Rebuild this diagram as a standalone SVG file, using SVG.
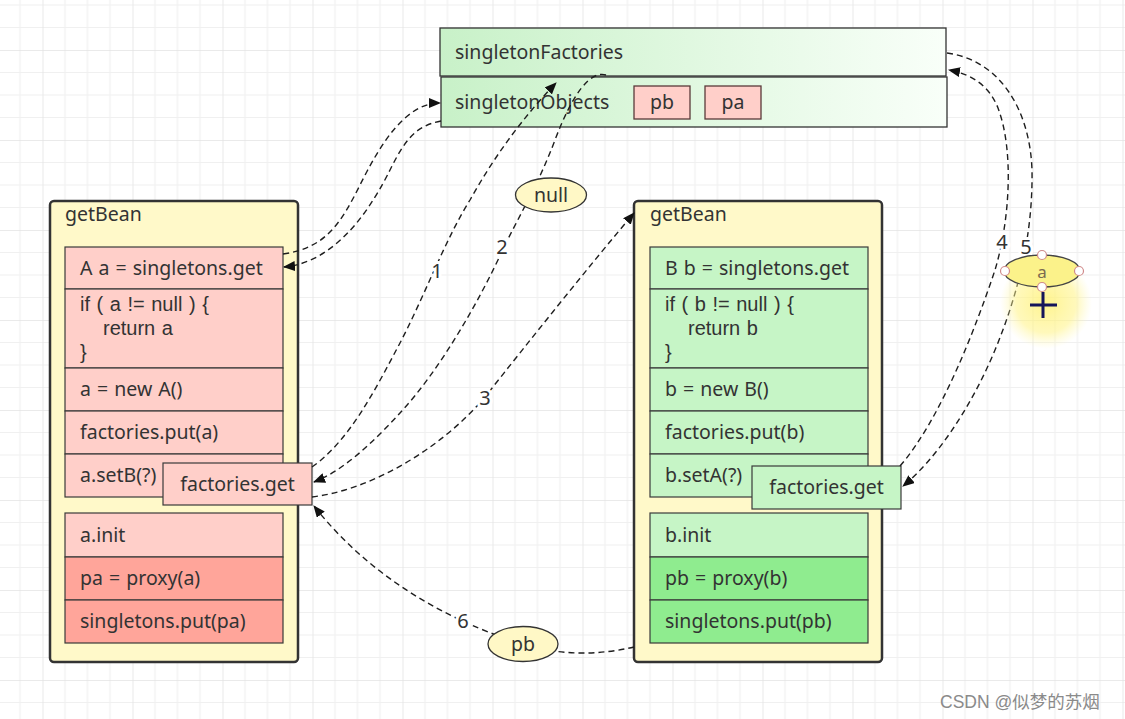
<svg xmlns="http://www.w3.org/2000/svg" width="1125" height="719" viewBox="0 0 1125 719">
<style>
.t{font-family:"Noto Sans","Liberation Sans",sans-serif;font-size:19.5px;word-spacing:1px;fill:#333}
.c{font-family:"Liberation Sans",sans-serif;font-size:20px;word-spacing:1px;fill:#333}
.lbl{font-family:"Noto Sans","Liberation Sans",sans-serif;font-size:20px;fill:#333;stroke:#fff;stroke-width:6px;paint-order:stroke;stroke-linejoin:round}
.outer{fill:#fff9c9;stroke:#333;stroke-width:2.5}
.row{stroke:#3a3a3a;stroke-width:1.2}
.pk{fill:#ffcfc9}
.pk2{fill:#ffa59a}
.gn{fill:#c6f5c6}
.gn2{fill:#8fec8f}
.edge{fill:none;stroke:#1e1e1e;stroke-width:1.4;stroke-dasharray:6 4}
.ell{fill:#fff8c6;stroke:#333;stroke-width:1.3}
</style>
<defs>
<pattern id="grid" patternUnits="userSpaceOnUse" x="42.5" y="50" width="90" height="90">
<path d="M22.5 0V90M45 0V90M67.5 0V90M0 22.5H90M0 45H90M0 67.5H90" stroke="#f0f0f0" stroke-width="1.2" fill="none"/>
<path d="M0 0V90M0 0H90" stroke="#e3e3e3" stroke-width="1.5" fill="none"/>
</pattern>
<linearGradient id="gg" x1="0" y1="0" x2="1" y2="0">
<stop offset="0" stop-color="#c8f1c8"/>
<stop offset="1" stop-color="#f9fff9"/>
</linearGradient>
<radialGradient id="glow">
<stop offset="0" stop-color="#fff27a" stop-opacity="0.85"/>
<stop offset="0.65" stop-color="#fff48e" stop-opacity="0.6"/>
<stop offset="1" stop-color="#fff8b0" stop-opacity="0"/>
</radialGradient>
<marker id="ah" viewBox="0 0 12 10" refX="11" refY="5" markerWidth="12" markerHeight="10" markerUnits="userSpaceOnUse" orient="auto">
<path d="M0 0L12 5L0 10z" fill="#111"/>
</marker>
</defs>
<rect width="1125" height="719" fill="#fff"/>
<rect width="1125" height="719" fill="url(#grid)"/>

<g id="store">
<rect x="440" y="28" width="506" height="48" fill="url(#gg)" stroke="#333" stroke-width="1.3"/>
<text class="t" x="455" y="59">singletonFactories</text>
<rect x="441" y="77" width="506" height="50" fill="url(#gg)" stroke="#333" stroke-width="1.3"/>
<text class="t" x="455" y="109">singletonObjects</text>
<rect x="634" y="86" width="56" height="33" class="pk" stroke="#5a3a3a" stroke-width="1.3"/>
<text class="t" x="662" y="109" text-anchor="middle">pb</text>
<rect x="705" y="86" width="56" height="33" class="pk" stroke="#5a3a3a" stroke-width="1.3"/>
<text class="t" x="733" y="109" text-anchor="middle">pa</text>
</g>

<g id="getBeanA">
<rect class="outer" x="50" y="201" width="248" height="461" rx="4"/>
<text class="t" x="65" y="221">getBean</text>
<rect class="row pk" x="65" y="247" width="218" height="42"/>
<text class="t" x="80" y="275">A a = singletons.get</text>
<rect class="row pk" x="65" y="289" width="218" height="79"/>
<text class="c" x="80" y="311">if ( a != null ) {</text>
<text class="c" x="103" y="335">return a</text>
<text class="c" x="80" y="359">}</text>
<rect class="row pk" x="65" y="368" width="218" height="43"/>
<text class="t" x="80" y="396">a = new A()</text>
<rect class="row pk" x="65" y="411" width="218" height="43"/>
<text class="t" x="80" y="439">factories.put(a)</text>
<rect class="row pk" x="65" y="454" width="218" height="43"/>
<text class="t" x="80" y="482">a.setB(?)</text>
<rect class="row pk" x="65" y="513" width="218" height="44"/>
<text class="t" x="80" y="542">a.init</text>
<rect class="row pk2" x="65" y="557" width="218" height="43"/>
<text class="t" x="80" y="585">pa = proxy(a)</text>
<rect class="row pk2" x="65" y="600" width="218" height="43"/>
<text class="t" x="80" y="628">singletons.put(pa)</text>
</g>

<g id="getBeanB">
<rect class="outer" x="634" y="201" width="248" height="461" rx="4"/>
<text class="t" x="650" y="221">getBean</text>
<rect class="row gn" x="650" y="247" width="218" height="42"/>
<text class="t" x="665" y="275">B b = singletons.get</text>
<rect class="row gn" x="650" y="289" width="218" height="79"/>
<text class="c" x="665" y="311">if ( b != null ) {</text>
<text class="c" x="688" y="335">return b</text>
<text class="c" x="665" y="359">}</text>
<rect class="row gn" x="650" y="368" width="218" height="43"/>
<text class="t" x="665" y="396">b = new B()</text>
<rect class="row gn" x="650" y="411" width="218" height="43"/>
<text class="t" x="665" y="439">factories.put(b)</text>
<rect class="row gn" x="650" y="454" width="218" height="43"/>
<text class="t" x="665" y="482">b.setA(?)</text>
<rect class="row gn" x="650" y="513" width="218" height="44"/>
<text class="t" x="665" y="542">b.init</text>
<rect class="row gn2" x="650" y="557" width="218" height="43"/>
<text class="t" x="665" y="585">pb = proxy(b)</text>
<rect class="row gn2" x="650" y="600" width="218" height="43"/>
<text class="t" x="665" y="628">singletons.put(pb)</text>
</g>

<g id="factoriesGetA">
<rect class="row pk" x="163" y="463" width="149" height="42"/>
<text class="t" x="237.5" y="491" text-anchor="middle">factories.get</text>
</g>
<g id="factoriesGetB">
<rect class="row gn" x="752" y="466" width="149" height="43"/>
<text class="t" x="826.5" y="494" text-anchor="middle">factories.get</text>
</g>

<g id="connectors">
<path class="edge" d="M283,254 C325,248 340,225 360,185 S405,103 440,103" marker-end="url(#ah)"/>
<path class="edge" d="M441,121 C415,126 405,140 390,170 S340,262 284,267" marker-end="url(#ah)"/>
<path class="edge" d="M312,467 C350,440 375,390 400,343 C425,295 445,240 470,200 C495,155 525,115 556,83" marker-end="url(#ah)"/>
<path class="edge" d="M606,75 C590,70 572,95 555,140 C540,180 525,205 505,245 C480,300 440,370 400,413 C375,440 345,470 314,482" marker-end="url(#ah)"/>
<path class="edge" d="M312,497 C370,490 440,450 485,397 C530,340 590,265 634,213" marker-end="url(#ah)"/>
<path class="edge" d="M634,647 C600,655 560,656 523,644 C470,628 380,590 314,506" marker-end="url(#ah)"/>
<path class="edge" d="M900,466 C940,420 975,330 995,270 C1010,220 1014,150 998,108 C990,88 975,75 949,70" marker-end="url(#ah)"/>
<path class="edge" d="M947,53 C1000,60 1030,110 1032,170 C1033,230 1020,290 995,350 C970,410 935,460 903,486" marker-end="url(#ah)"/>
<text class="lbl" x="437" y="278" text-anchor="middle">1</text>
<text class="lbl" x="502" y="254" text-anchor="middle">2</text>
<text class="lbl" x="485" y="405" text-anchor="middle">3</text>
<text class="lbl" x="1002" y="249" text-anchor="middle">4</text>
<text class="lbl" x="1026" y="254" text-anchor="middle">5</text>
<text class="lbl" x="463" y="628" text-anchor="middle">6</text>
</g>

<g id="nullLabel">
<ellipse class="ell" cx="551" cy="195" rx="35.5" ry="17"/>
<text class="t" x="551" y="202" text-anchor="middle">null</text>
</g>
<g id="pbLabel">
<ellipse class="ell" cx="523" cy="644" rx="35" ry="17.5"/>
<text class="t" x="523" y="651" text-anchor="middle">pb</text>
</g>

<g id="aLabel">
<circle cx="1046" cy="303" r="46" fill="url(#glow)"/>
<ellipse cx="1042" cy="271" rx="38" ry="16" fill="#fbf28a" stroke="#444" stroke-width="1.3"/>
<text class="t" x="1042" y="278" text-anchor="middle" style="fill:#7a6a50;font-size:17px">a</text>
<g fill="#fff" stroke="#d08a8a" stroke-width="1.2">
<circle cx="1042" cy="255" r="4.5"/>
<circle cx="1005" cy="271" r="4.5"/>
<circle cx="1079" cy="271" r="4.5"/>
<circle cx="1042" cy="287" r="4.5"/>
</g>
<path d="M1030,305H1057M1043,292V318" stroke="#15155a" stroke-width="3"/>
</g>

<text x="940" y="708" style="font-family:'Liberation Sans','Noto Sans CJK SC',sans-serif;font-size:17.5px;fill:#8a8a8a">CSDN @似梦的苏烟</text>
</svg>
